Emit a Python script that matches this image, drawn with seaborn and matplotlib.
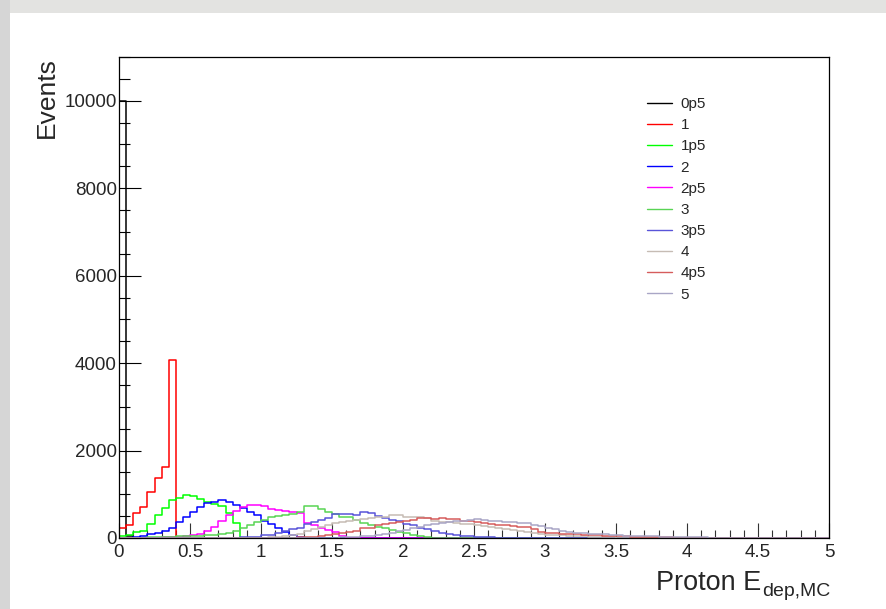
import numpy as np
import pandas as pd
import seaborn as sns
import matplotlib
matplotlib.use("Agg")
import matplotlib.pyplot as plt
from matplotlib.patches import Rectangle
from matplotlib.ticker import MultipleLocator

# ---------------- data (counts per bin, bin width 0.05 on 0..5) ----------------
bin_width = 0.05
n_bins = 100
labels = ["0p5", "1", "1p5", "2", "2p5", "3", "3p5", "4", "4p5", "5"]
colors = ["#000000", "#ff0000", "#00ff00", "#0000ff", "#ff00ff",
          "#59d454", "#5954d9", "#c6bcb4", "#d65c5c", "#a9a6c6"]

h_0p5 = [10000, 40, 10]
h_1 = [221, 298, 565, 717, 1060, 1381, 1618, 4070]
h_1p5 = [40, 70, 145, 170, 330, 520, 680, 880, 920, 985, 965, 890, 815, 780,
         735, 565, 335, 10, 5]
h_2 = [5, 10, 20, 40, 90, 125, 160, 240, 370, 480, 590, 720, 800, 820, 860,
       830, 750, 680, 590, 520, 400, 320, 230, 145, 70, 30, 10]
h_2p5 = [0, 0, 0, 5, 5, 10, 15, 20, 30, 45, 60, 100, 150, 260, 380, 520, 610,
         720, 745, 750, 730, 670, 630, 610, 600, 580, 340, 300, 220, 180, 140,
         40, 10]
h_3 = [0, 0, 5, 10, 15, 20, 25, 30, 40, 45, 50, 55, 60, 70, 85, 110, 150, 230,
       300, 360, 420, 470, 500, 520, 540, 600, 730, 730, 660, 600, 560, 490,
       470, 420, 340, 300, 260, 230, 180, 140, 120, 80, 50, 25, 10, 5]
h_3p5 = [0] * 16 + [10, 15, 20, 30, 60, 80, 120, 150, 200, 230, 330, 360, 420,
                    450, 540, 560, 560, 530, 590, 580, 510, 460, 420, 400, 330,
                    300, 230, 200, 150, 120, 100, 70, 50, 35, 25, 20, 15, 10, 5]
h_4 = [0] * 20 + [10, 20, 30, 50, 70, 100, 150, 200, 250, 300, 340, 370, 400,
                  420, 440, 460, 470, 490, 520, 520, 490, 480, 470, 450, 400,
                  360, 360, 340, 330, 310, 300, 270, 250, 220, 200, 180, 150,
                  130, 110, 100, 80, 70, 60, 50, 40, 35, 30, 25, 20, 15, 10,
                  5, 5, 5]
h_4p5 = [0] * 24 + [10, 15, 20, 30, 45, 60, 100, 110, 140, 150, 220, 240, 300,
                    330, 350, 370, 400, 420, 450, 450, 440, 450, 440, 430, 390,
                    380, 360, 340, 330, 300, 290, 270, 260, 250, 200, 145, 120,
                    105, 100, 85, 85, 80, 70, 60, 50, 45, 40, 35, 30, 25, 20,
                    18, 15, 12, 10, 8, 5, 5, 3]
h_5 = [0] * 30 + [10, 15, 20, 30, 40, 55, 70, 90, 110, 150, 180, 220, 260, 300,
                  330, 350, 370, 390, 400, 410, 430, 420, 400, 380, 370, 360,
                  350, 340, 300, 280, 240, 200, 170, 145, 125, 110, 100, 90,
                  85, 75, 65, 55, 45, 40, 38, 35, 30, 28, 25, 23, 20, 15, 12,
                  10, 8, 5, 5, 3]

series = [h_0p5, h_1, h_1p5, h_2, h_2p5, h_3, h_3p5, h_4, h_4p5, h_5]

edges = [round(i * bin_width, 4) for i in range(n_bins + 1)]
centers = [(edges[i] + edges[i + 1]) / 2 for i in range(n_bins)]

rows = []
for lab, vals in zip(labels, series):
    full = list(vals) + [0] * (n_bins - len(vals))
    for c, v in zip(centers, full):
        rows.append({"E": c, "count": float(v), "sample": lab})
df = pd.DataFrame(rows)

# ---------------- figure ----------------
sns.set_theme(style="white")
plt.rcParams["font.family"] = ["Liberation Sans", "DejaVu Sans"]

W, H = 886, 609
fig = plt.figure(figsize=(W / 100, H / 100), dpi=100)
fig.patch.set_facecolor("white")

# screenshot-like grey border strips
fig.add_artist(Rectangle((0, 1 - 13 / H), 1, 13 / H, transform=fig.transFigure,
                         facecolor="#e3e3e1", edgecolor="none", zorder=0))
fig.add_artist(Rectangle((0, 0), 10 / W, 1, transform=fig.transFigure,
                         facecolor="#d6d6d6", edgecolor="none", zorder=0))

left, right, top, bottom = 119, 829, 57, 538
ax = fig.add_axes([left / W, 1 - bottom / H, (right - left) / W, (bottom - top) / H])
ax.set_facecolor("white")

for lab, col in zip(labels, colors):
    sub = df[df["sample"] == lab]
    sns.histplot(data=sub, x="E", weights="count", bins=edges, element="step",
                 fill=False, color=col, linewidth=1.1, ax=ax, label=lab)

ax.set_xlim(0, 5)
ax.set_ylim(0, 11000)
ax.set_xlabel("")
ax.set_ylabel("")

ax.set_xticks([0, 0.5, 1, 1.5, 2, 2.5, 3, 3.5, 4, 4.5, 5])
ax.set_xticklabels(["0", "0.5", "1", "1.5", "2", "2.5", "3", "3.5", "4", "4.5", "5"])
ax.xaxis.set_minor_locator(MultipleLocator(0.1))
ax.set_yticks([0, 2000, 4000, 6000, 8000, 10000])
ax.yaxis.set_minor_locator(MultipleLocator(500))

ax.tick_params(axis="x", which="major", direction="in", length=10.8, width=0.8,
               color="#333333", labelsize=13.5, pad=4.5, bottom=True, top=False)
ax.tick_params(axis="x", which="minor", direction="in", length=5.8, width=0.8,
               color="#333333", bottom=True, top=False)
ax.tick_params(axis="y", which="major", direction="in", length=15.6, width=0.8,
               color="black", labelsize=13.5, pad=1.5, left=True, right=False)
ax.tick_params(axis="y", which="minor", direction="in", length=7.7, width=0.8,
               color="black", left=True, right=False)

for s in ax.spines.values():
    s.set_visible(True)
    s.set_color("black")
    s.set_linewidth(0.9)

leg = ax.legend(loc="upper left", bbox_to_anchor=(647 / W, 1 - 97 / H),
                bbox_transform=fig.transFigure, frameon=False, fontsize=11,
                handlelength=1.64, handletextpad=0.55, labelspacing=0.47,
                borderpad=0, borderaxespad=0)
for line in leg.get_lines():
    line.set_linewidth(1.0)

fig.text(47 / W, 1 - 57 / H, "Events", rotation=90, ha="center", va="top",
         fontsize=19)

# x-axis title: "Proton E" with a larger-than-mathtext subscript "dep,MC"
sub_txt = fig.text(830 / W, 1 - 596 / H, "dep,MC", ha="right", va="baseline",
                   fontsize=14)
renderer = fig.canvas.get_renderer()
bb = sub_txt.get_window_extent(renderer=renderer)
fig.text((bb.x0 - 1) / W, 1 - 590 / H, "Proton E", ha="right", va="baseline",
         fontsize=19.5)

fig.savefig("out.png", dpi=100)
